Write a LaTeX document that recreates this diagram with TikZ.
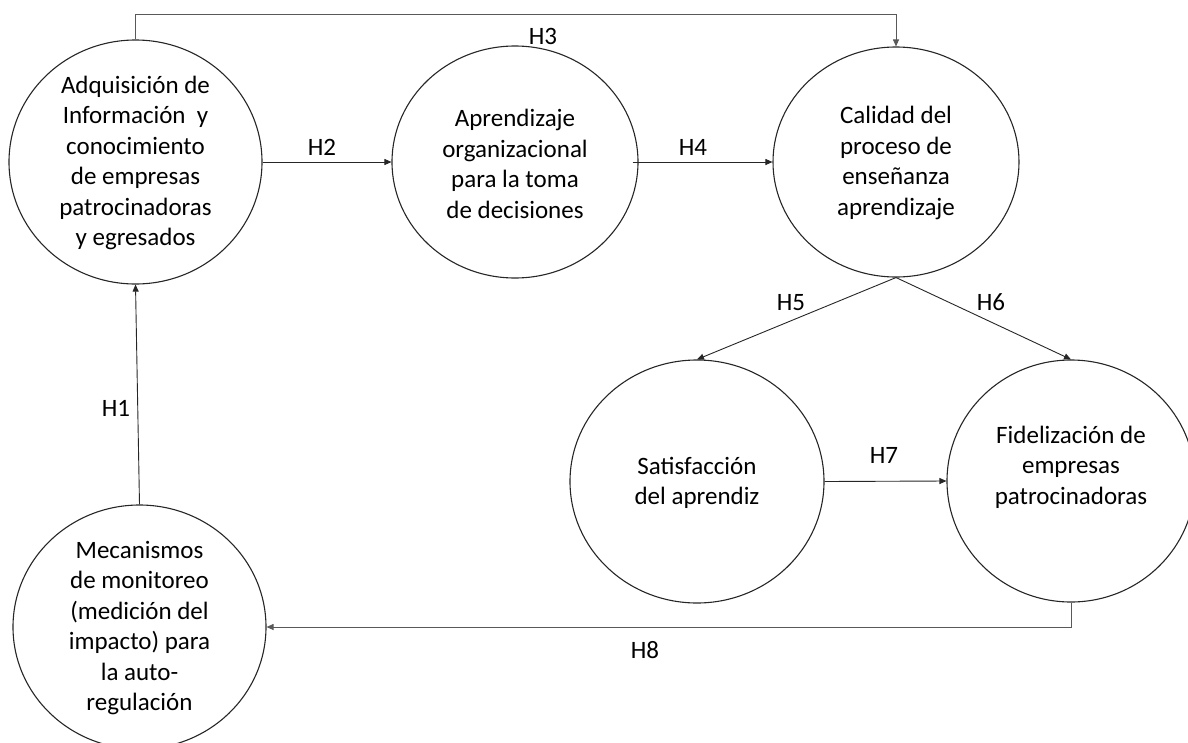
\documentclass[tikz,border=0pt]{standalone}
\usepackage{fontspec}
\setmainfont{Carlito}
\usetikzlibrary{shapes.geometric,arrows.meta}
\begin{document}
\begin{tikzpicture}[x=1pt,y=-1pt,
  construct/.style={ellipse,draw=black!85,line width=1.1pt,inner sep=0pt},
  ctext/.style={align=center,inner sep=0pt,font=\fontsize{25}{30.5}\selectfont},
  conn/.style={draw=black!85,line width=0.9pt,-{Triangle[length=7pt,width=6pt]}},
  longconn/.style={conn,draw=black!65},
  hlabel/.style={inner sep=0pt,font=\fontsize{25}{30}\selectfont}]
\useasboundingbox (0,0) rectangle (1188,742);

% constructs
\node[construct,minimum width=253pt,minimum height=244pt] (C1) at (135.5,162) {};
\node[construct,minimum width=246pt,minimum height=232pt] (C2) at (515,162) {};
\node[construct,minimum width=246pt,minimum height=230pt] (C3) at (896,162) {};
\node[construct,minimum width=254pt,minimum height=243pt] (C4) at (697,481.5) {};
\node[construct,minimum width=248pt,minimum height=242pt] (C5) at (1071,481) {};
\node[construct,minimum width=253pt,minimum height=244pt] (C6) at (139.5,627) {};

% construct texts
\node[ctext] (T1) at (135.5,163) {Adquisición de\\Información\ \ y\\conocimiento\\de empresas\\patrocinadoras\\y egresados};
\node[ctext] (T2) at (515,164) {Aprendizaje\\organizacional\\para la toma\\de decisiones};
\node[ctext] (T3) at (896,163) {Calidad del\\proceso de\\enseñanza\\aprendizaje};
\node[ctext] (T4) at (697,483) {Satisfacción\\del aprendiz};
\node[ctext] (T5) at (1071,467) {Fidelización de\\empresas\\patrocinadoras};
\node[ctext] (T6) at (139.5,628) {Mecanismos\\de monitoreo\\(medición del\\impacto) para\\la auto-\\regulación};

% connectors
\coordinate (h3top) at (500,14);
\draw[conn] (C6.north) -- (C1.south);
\draw[conn] (C1.east) -- (C2.west);
\draw[longconn] (C1.north) |- (C3.north |- h3top) -- (C3.north);
\draw[conn] ([xshift=-6pt]C2.east) -- (C3.west);
\draw[conn] (C3.south) -- (C4.north);
\draw[conn] (C3.south) -- (C5.north);
\draw[conn] (C4.east) -- (C5.west);
\draw[longconn] (C5.south) |- (C6.east);

% hypothesis labels
\node[hlabel] (H1) at (116,408) {H1};
\node[hlabel] (H2) at (322,147) {H2};
\node[hlabel] (H3) at (543,36) {H3};
\node[hlabel] (H4) at (693,147) {H4};
\node[hlabel] (H5) at (791,303) {H5};
\node[hlabel] (H6) at (991,302) {H6};
\node[hlabel] (H7) at (884,455) {H7};
\node[hlabel] (H8) at (645,650) {H8};
\end{tikzpicture}
\end{document}
